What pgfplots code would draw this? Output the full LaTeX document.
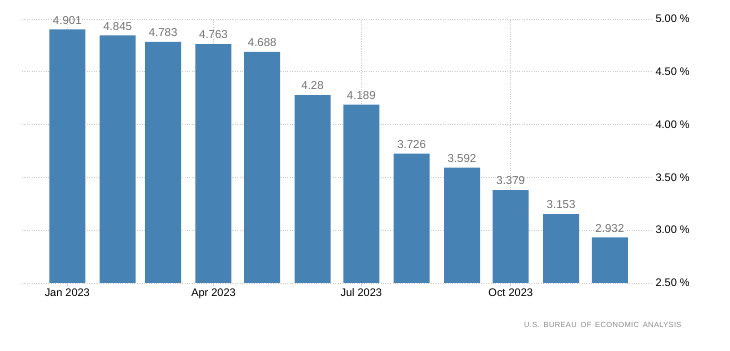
\documentclass[border=0pt]{standalone}
\usepackage{fontspec}
\setmainfont{Liberation Sans}
\newfontfamily\srcfont[LetterSpace=5,WordSpace=1.6]{Liberation Sans}
\usepackage{pgfplots}
\pgfplotsset{compat=1.18}
\definecolor{barblue}{HTML}{4682B4}
\definecolor{gridgray}{HTML}{CCCCCC}
\definecolor{lblgray}{HTML}{737373}
\definecolor{srcgray}{HTML}{8A8A8A}
\begin{document}
\begin{tikzpicture}
\begin{axis}[
  at={(0,0)}, anchor=south west,
  scale only axis,
  width=631bp, height=264bp,
  xmin=-27.9, xmax=360.6,
  ymin=2.5, ymax=5.0,
  axis line style={draw=none},
  ytick={2.5,3,3.5,4,4.5,5},
  yticklabel pos=right,
  yticklabel style={anchor=west, xshift=-4bp, font=\fontsize{11}{13}\selectfont, text=black},
  yticklabel={\pgfmathprintnumber[fixed,fixed zerofill,precision=2]{\tick}~\%},
  /pgf/number format/assume math mode=true,
  xtick={0,90,181,273},
  xticklabels={Jan 2023,Apr 2023,Jul 2023,Oct 2023},
  xticklabel style={font=\fontsize{11}{13}\selectfont, text=black, yshift=1bp},
  xtick style={draw=gridgray, line width=0.6bp},
  major tick length=3bp,
  xtick pos=bottom, tick align=outside,
  ytick style={draw=none},
  grid=major,
  major grid style={gridgray, dotted, line width=0.7bp},
  clip mode=individual,
]
\addplot[ybar, bar width=36bp, fill=barblue, draw=none,
  point meta=explicit symbolic,
  nodes near coords={\pgfplotspointmeta},
  every node near coord/.append style={font=\fontsize{11.5}{13}\selectfont, text=lblgray, inner sep=0pt, anchor=south, yshift=5bp}]
coordinates {
(0,4.901) [4.901]
(31,4.845) [4.845]
(59,4.783) [4.783]
(90,4.763) [4.763]
(120,4.688) [4.688]
(151,4.28) [4.28]
(181,4.189) [4.189]
(212,3.726) [3.726]
(243,3.592) [3.592]
(273,3.379) [3.379]
(304,3.153) [3.153]
(334,2.932) [2.932]
};
\end{axis}
\node[anchor=east, font=\fontsize{7.5}{9}\selectfont\srcfont, text=srcgray] at (663bp,-42bp) {U.S. BUREAU OF ECONOMIC ANALYSIS};
\pgfresetboundingbox
\path[use as bounding box] (-22bp,-68bp) rectangle (708bp,283bp);
\end{tikzpicture}
\end{document}
